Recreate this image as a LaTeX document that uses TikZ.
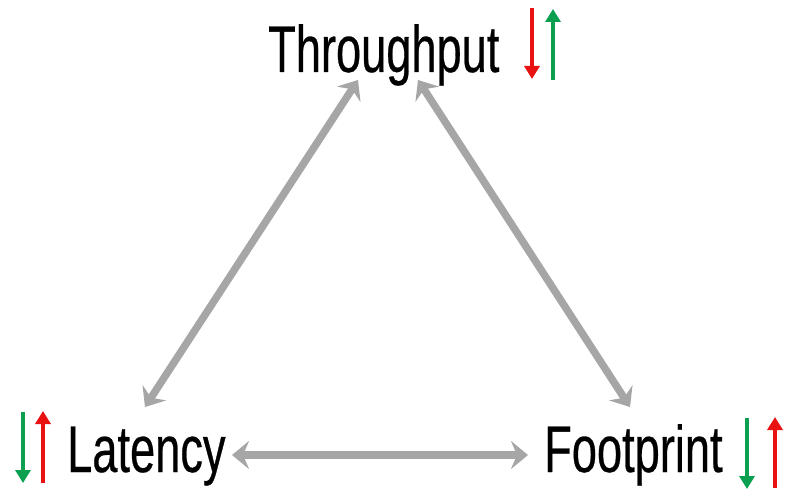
\documentclass[tikz,border=0pt]{standalone}
\usepackage{fontspec}
\setmainfont{Liberation Sans}
\newfontfamily\condfont[FakeStretch=0.685,FakeBold=0.4]{Liberation Sans}
\usetikzlibrary{arrows.meta}
\definecolor{arrgray}{RGB}{166,166,166}
\definecolor{upred}{RGB}{232,18,18}
\definecolor{upgreen}{RGB}{10,160,80}
\tikzset{
  lbl/.style={inner sep=0pt, anchor=base west, font=\condfont\fontsize{66}{70}\selectfont},
  conn/.style={draw=arrgray, line width=7.5pt, {Stealth[length=17pt,width=28pt,inset=6pt]}-{Stealth[length=17pt,width=28pt,inset=6pt]}},
  ind/.style={line width=4pt, -{Triangle[length=13pt,width=15pt]}},
}
\begin{document}
\begin{tikzpicture}[x=1pt,y=-1pt]
\useasboundingbox (0,0) rectangle (786,492);
\node[lbl] (T) at (268,72) {Throughput};
\node[lbl] (L) at (67,472) {Latency};
\node[lbl] (F) at (544,472) {Footprint};
% connector end points
\coordinate (tl) at (358,80);
\coordinate (tr) at (418,80);
\coordinate (lt) at (145,407);
\coordinate (lr) at (232,455);
\coordinate (fl) at (528,455);
\coordinate (ft) at (630,407);
\draw[conn] (tl) -- (lt);
\draw[conn] (tr) -- (ft);
\draw[conn] (lr) -- (fl);
% indicator arrows
\draw[ind, upred] (532,8) -- (532,79);
\draw[ind, upgreen] (553,80) -- (553,9);
\draw[ind, upgreen] (23,412) -- (23,483);
\draw[ind, upred] (43,483) -- (43,411);
\draw[ind, upgreen] (747,418) -- (747,489);
\draw[ind, upred] (775,488) -- (775,417);
\end{tikzpicture}
\end{document}
